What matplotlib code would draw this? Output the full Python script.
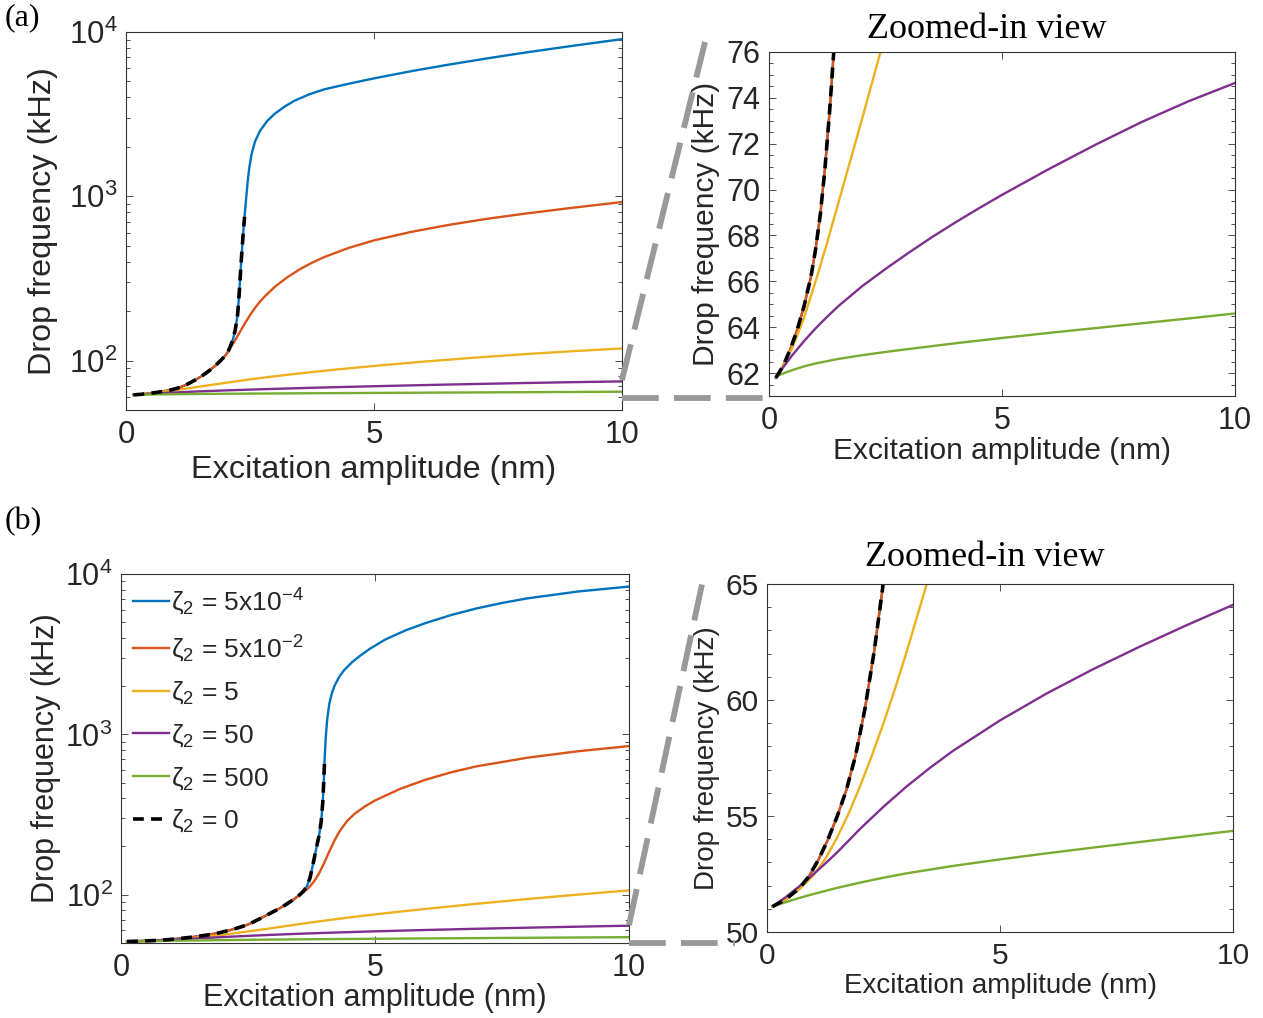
"""
Drop frequency vs. excitation amplitude for several damping ratios zeta_2.

Two cases, (a) and (b). Each row has the full log-scale view on the left
and a linear zoom of the low-frequency corner on the right, joined by
grey dashed guide lines.
"""

import matplotlib
matplotlib.use('Agg')
import matplotlib.pyplot as plt
from matplotlib.lines import Line2D
from matplotlib.ticker import FixedLocator, MultipleLocator

plt.rcParams['font.family'] = ['Liberation Sans', 'DejaVu Sans']
plt.rcParams['mathtext.fontset'] = 'custom'
plt.rcParams['mathtext.rm'] = 'Liberation Sans'
plt.rcParams['mathtext.it'] = 'Liberation Sans:italic'
plt.rcParams['mathtext.bf'] = 'Liberation Sans:bold'

# ---- Data: case (a) ---------------------------------------------------
a_blue_x = [0.15, 0.3, 0.45, 0.6, 0.75, 0.9, 1.0, 1.1, 1.2, 1.3, 1.4, 1.5, 1.6,
            1.7, 1.8, 1.9, 2.0, 2.06, 2.1, 2.15, 2.2, 2.25, 2.28, 2.32, 2.36,
            2.39, 2.42, 2.45, 2.48, 2.53, 2.6, 2.7, 2.85, 3.0, 3.2, 3.4, 3.7,
            4.0, 4.5, 5.0, 5.75, 6.5, 7.25, 8.0, 9.0, 10.0]
a_blue_y = [61.8, 62.3, 63.0, 63.85, 64.9, 66.2, 67.4, 68.9, 70.9, 73.4, 76.3,
            79.5, 83.3, 87.8, 93.0, 99.5, 107, 114, 121, 133, 152, 190, 250,
            390, 580, 750, 950, 1200, 1450, 1800, 2150, 2500, 2880, 3180, 3520,
            3820, 4180, 4480, 4850, 5220, 5775, 6325, 6885, 7460, 8235, 9050]

a_orange_x = [0.15, 0.3, 0.45, 0.6, 0.75, 0.9, 1.0, 1.1, 1.2, 1.3, 1.4, 1.5,
              1.6, 1.7, 1.8, 1.9, 2.0, 2.06, 2.1, 2.2, 2.3, 2.4, 2.5, 2.6, 2.7,
              2.8, 3.0, 3.25, 3.5, 3.75, 4.0, 4.5, 5.0, 5.75, 6.5, 7.25, 8.0,
              9.0, 10.0]
a_orange_y = [61.8, 62.3, 63.0, 63.85, 64.9, 66.2, 67.4, 68.9, 70.9, 73.4, 76.3,
              79.5, 83.3, 87.8, 93.0, 99.5, 107, 113, 119, 133, 150, 169, 189,
              209, 228, 246, 281, 321, 359, 394, 427, 486, 539, 607, 669, 727,
              781, 851, 922]

a_yellow_x = [0.15, 0.3, 0.5, 0.75, 1.0, 1.25, 1.5, 1.75, 2.0, 2.25, 2.5, 2.8,
              3.25, 3.75, 4.25, 5.0, 6.0, 7.0, 8.0, 9.0, 10.0]
a_yellow_y = [61.8, 62.3, 63.1, 64.4, 66.0, 67.7, 69.5, 71.3, 73.1, 74.95, 76.8,
              78.9, 81.9, 85.1, 88.2, 92.7, 98.5, 104.0, 109.2, 114.0, 118.5]

a_purple_x = [0.15, 0.3, 0.5, 0.75, 1.0, 1.25, 1.5, 2.0, 2.5, 3.0, 3.5, 4.0,
              4.5, 5.0, 6.0, 7.0, 8.0, 9.0, 10.0]
a_purple_y = [61.8, 62.24, 62.78, 63.39, 63.95, 64.46, 64.94, 65.79, 66.54,
              67.25, 67.93, 68.57, 69.18, 69.77, 70.89, 71.95, 72.95, 73.85,
              74.65]

a_green_x = [0.15, 0.3, 0.5, 0.75, 1.0, 1.5, 2.0, 2.5, 3.0, 4.0, 5.0, 6.0, 7.0,
             8.0, 9.0, 10.0]
a_green_y = [61.85, 61.98, 62.13, 62.29, 62.42, 62.62, 62.78, 62.92, 63.05,
             63.3, 63.53, 63.75, 63.96, 64.17, 64.38, 64.6]

a_zero_x = [0.15, 0.3, 0.45, 0.6, 0.75, 0.9, 1.0, 1.1, 1.2, 1.3, 1.4, 1.5, 1.6,
            1.7, 1.8, 1.9, 2.0, 2.06, 2.1, 2.15, 2.2, 2.25, 2.28, 2.32, 2.36,
            2.39]
a_zero_y = [61.8, 62.3, 63.0, 63.85, 64.9, 66.2, 67.4, 68.9, 70.9, 73.4, 76.3,
            79.5, 83.3, 87.8, 93.0, 99.5, 107, 114, 121, 133, 152, 190, 250,
            390, 580, 750]

# ---- Data: case (b) ---------------------------------------------------
b_blue_x = [0.12, 0.4, 0.7, 0.9, 1.1, 1.3, 1.5, 1.7, 1.9, 2.1, 2.3, 2.48, 2.6,
            2.74, 2.9, 3.1, 3.25, 3.4, 3.52, 3.6, 3.66, 3.72, 3.78, 3.84, 3.9,
            3.94, 3.97, 3.99, 4.01, 4.03, 4.06, 4.1, 4.15, 4.2, 4.3, 4.4, 4.55,
            4.7, 4.9, 5.2, 5.6, 6.0, 6.5, 7.0, 7.5, 8.0, 9.0, 10.0]
b_blue_y = [51.1, 51.4, 51.9, 52.4, 53.1, 53.95, 54.95, 56.1, 57.6, 59.6, 62.1,
            64.8, 67.5, 71.0, 75.5, 81.5, 87.0, 93.5, 100, 106, 113, 127, 155,
            192, 235, 285, 370, 500, 720, 950, 1250, 1550, 1800, 2000, 2300,
            2530, 2820, 3080, 3420, 3900, 4450, 4950, 5550, 6100, 6600, 7050,
            7780, 8350]

b_orange_x = [0.12, 0.4, 0.7, 0.9, 1.1, 1.3, 1.5, 1.7, 1.9, 2.1, 2.3, 2.48,
              2.6, 2.74, 2.9, 3.1, 3.25, 3.4, 3.52, 3.6, 3.7, 3.8, 3.9, 4.0,
              4.1, 4.2, 4.3, 4.45, 4.6, 4.8, 5.0, 5.5, 6.0, 6.5, 7.0, 8.0, 9.0,
              10.0]
b_orange_y = [51.1, 51.4, 51.9, 52.4, 53.1, 53.95, 54.95, 56.1, 57.6, 59.6,
              62.1, 64.8, 67.5, 71.0, 75.5, 81.5, 87.0, 93.5, 100, 104, 111,
              121, 136, 158, 186, 217, 248, 288, 320, 355, 387, 458, 522, 580,
              632, 715, 785, 845]

b_yellow_x = [0.12, 0.4, 0.7, 1.0, 1.25, 1.5, 1.75, 2.0, 2.25, 2.5, 2.75, 3.0,
              3.31, 3.6, 4.0, 4.5, 5.0, 5.5, 6.0, 7.0, 8.0, 9.0, 10.0]
b_yellow_y = [51.1, 51.4, 51.85, 52.45, 53.15, 54.05, 55.1, 56.3, 57.6, 59.0,
              60.5, 62.1, 64.2, 66.2, 68.9, 72.2, 75.4, 78.5, 81.6, 87.8, 94.0,
              100.2, 106.4]

b_purple_x = [0.12, 0.4, 0.7, 1.0, 1.25, 1.5, 2.0, 2.5, 3.0, 3.5, 4.0, 5.0, 6.0,
              7.0, 8.0, 9.0, 10.0]
b_purple_y = [51.1, 51.5, 51.98, 52.5, 52.95, 53.42, 54.45, 55.4, 56.28, 57.08,
              57.82, 59.12, 60.28, 61.33, 62.3, 63.22, 64.1]

b_green_x = [0.12, 0.3, 0.5, 0.75, 1.0, 1.5, 2.0, 2.5, 3.0, 4.0, 5.0, 6.0, 7.0,
             8.0, 9.0, 10.0]
b_green_y = [51.1, 51.22, 51.35, 51.5, 51.64, 51.9, 52.13, 52.34, 52.53, 52.85,
             53.13, 53.39, 53.64, 53.88, 54.12, 54.36]

b_zero_x = [0.12, 0.4, 0.7, 0.9, 1.1, 1.3, 1.5, 1.7, 1.9, 2.1, 2.3, 2.48, 2.6,
            2.74, 2.9, 3.1, 3.25, 3.4, 3.52, 3.6, 3.66, 3.72, 3.78, 3.84, 3.9,
            3.94, 3.97, 3.99, 4.01]
b_zero_y = [51.1, 51.4, 51.9, 52.4, 53.1, 53.95, 54.95, 56.1, 57.6, 59.6, 62.1,
            64.8, 67.5, 71.0, 75.5, 81.5, 87.0, 93.5, 100, 106, 113, 127, 155,
            192, 235, 285, 370, 500, 720]

ZETA_LABELS = ['ζ$_2$ = 5x10$^{-4}$', 'ζ$_2$ = 5x10$^{-2}$', 'ζ$_2$ = 5',
               'ζ$_2$ = 50', 'ζ$_2$ = 500', 'ζ$_2$ = 0']

# MATLAB default line colours
COLORS = ['#0072BD', '#D95319', '#EDB120', '#7E2F8E', '#77AC30']
TEXT = '#262626'
GUIDE = '#999999'

W, H = 1263, 1018


def px_rect(left, top, right, bottom):
    """Pixel box -> figure-fraction [l, b, w, h]."""
    return [left / W, 1 - bottom / H, (right - left) / W, (bottom - top) / H]


def style_axes(ax, tick_fs):
    for s in ax.spines.values():
        s.set_color('#333333')
        s.set_linewidth(0.8)
    ax.tick_params(which='both', direction='in', top=True, right=True,
                   colors='#333333', labelcolor=TEXT, labelsize=tick_fs,
                   width=0.6)
    ax.tick_params(which='major', length=5)
    ax.tick_params(which='minor', length=3)
    ax.tick_params(axis='x', pad=7)
    ax.tick_params(axis='y', pad=6)
    ax.set_xlim(0, 10)
    ax.xaxis.set_major_locator(FixedLocator([0, 5, 10]))
    ax.xaxis.set_minor_locator(FixedLocator([]))


def draw_curves(ax, series, zero):
    handles = []
    for (x, y), c in zip(series, COLORS):
        h, = ax.plot(x, y, color=c, lw=1.7)
        handles.append(h)
    h, = ax.plot(zero[0], zero[1], color='black', lw=2.6,
                 dashes=(3.0, 2.0), dash_capstyle='butt')
    handles.append(h)
    return handles


def set_labels(ax, fs, xl_y, yl_x):
    ax.set_xlabel('Excitation amplitude (nm)', fontsize=fs, color=TEXT)
    ax.set_ylabel('Drop frequency (kHz)', fontsize=fs, color=TEXT)
    ax.xaxis.set_label_coords(0.5, xl_y)
    ax.yaxis.set_label_coords(yl_x, 0.5)


def guide(fig, p0, p1):
    fig.add_artist(Line2D([p0[0] / W, p1[0] / W], [1 - p0[1] / H, 1 - p1[1] / H],
                          transform=fig.transFigure, color=GUIDE, lw=4.2,
                          dashes=(6.3, 2.6), dash_capstyle='butt'))


fig = plt.figure(figsize=(W / 100, H / 100), dpi=100)

series_a = [(a_blue_x, a_blue_y), (a_orange_x, a_orange_y),
            (a_yellow_x, a_yellow_y), (a_purple_x, a_purple_y),
            (a_green_x, a_green_y)]
series_b = [(b_blue_x, b_blue_y), (b_orange_x, b_orange_y),
            (b_yellow_x, b_yellow_y), (b_purple_x, b_purple_y),
            (b_green_x, b_green_y)]

# ---- (a) full view ----
ax = fig.add_axes(px_rect(126, 32, 622, 410))
draw_curves(ax, series_a, (a_zero_x, a_zero_y))
ax.set_yscale('log')
ax.set_ylim(50, 1e4)
style_axes(ax, 22.5)
set_labels(ax, 23.3, -0.118, -0.137)

# ---- (a) zoomed view ----
ax = fig.add_axes(px_rect(769, 52, 1235, 396))
draw_curves(ax, series_a, (a_zero_x, a_zero_y))
ax.set_ylim(61, 76)
ax.yaxis.set_major_locator(MultipleLocator(2))
ax.yaxis.set_minor_locator(MultipleLocator(0.5))
style_axes(ax, 22)
set_labels(ax, 21.5, -0.118, -0.105)

# ---- (b) full view ----
ax = fig.add_axes(px_rect(121, 574, 629, 943))
handles = draw_curves(ax, series_b, (b_zero_x, b_zero_y))
ax.set_yscale('log')
ax.set_ylim(50, 1e4)
style_axes(ax, 22)
set_labels(ax, 22, -0.108, -0.118)
leg = ax.legend(handles, ZETA_LABELS, loc='upper left', frameon=False,
                fontsize=19, handlelength=1.35, handletextpad=0.08,
                labelspacing=0.6, borderaxespad=0.2, borderpad=0.25)
for t in leg.get_texts():
    t.set_color(TEXT)

# ---- (b) zoomed view ----
ax = fig.add_axes(px_rect(767, 584, 1233, 932))
draw_curves(ax, series_b, (b_zero_x, b_zero_y))
ax.set_ylim(50, 65)
ax.yaxis.set_major_locator(MultipleLocator(5))
ax.yaxis.set_minor_locator(MultipleLocator(1))
style_axes(ax, 21.5)
set_labels(ax, 20, -0.118, -0.10)

# Guide lines from the zoomed corner to the inset panels
guide(fig, (622, 398), (769, 398))
guide(fig, (622, 380), (705, 42))
guide(fig, (629, 943), (735, 943))
guide(fig, (629, 925), (704, 575))

# Panel tags and inset titles
serif = 'Liberation Serif'
fig.text(5 / W, 1 - 18 / H, '(a)', ha='left', va='center', family=serif,
         fontsize=23)
fig.text(5 / W, 1 - 522 / H, '(b)', ha='left', va='center', family=serif,
         fontsize=23)
fig.text(987 / W, 1 - 30 / H, 'Zoomed-in view', ha='center', va='center',
         family=serif, fontsize=26)
fig.text(985 / W, 1 - 557 / H, 'Zoomed-in view', ha='center', va='center',
         family=serif, fontsize=26)

fig.savefig('out.png', dpi=100)
